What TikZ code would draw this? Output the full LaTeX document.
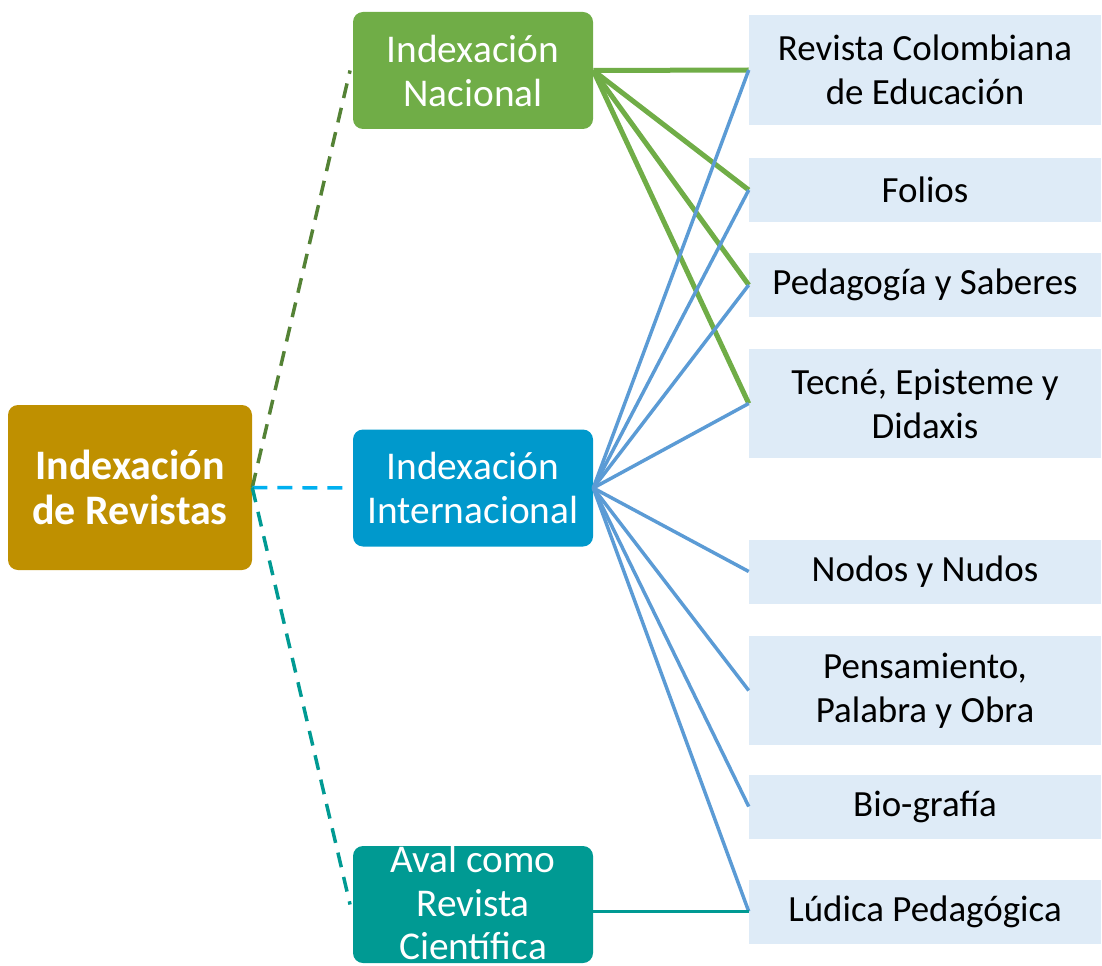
\documentclass[tikz,border=0pt]{standalone}
\usepackage{fontspec}
\setmainfont{Carlito}
\usepackage{xcolor}
\usetikzlibrary{shapes.geometric, arrows}
\definecolor{rootgold}{HTML}{BF9000}
\definecolor{nacgreen}{HTML}{70AD47}
\definecolor{nacdash}{HTML}{548235}
\definecolor{intblue}{HTML}{0099CC}
\definecolor{intdash}{HTML}{00B0F0}
\definecolor{avalteal}{HTML}{009A93}
\definecolor{linkblue}{HTML}{5B9BD5}
\definecolor{journalfill}{HTML}{DEEBF7}
\tikzstyle{rootbox} = [rectangle, rounded corners=7.5pt, minimum width=183pt, minimum height=123.75pt, align=center, text=white, fill=rootgold, font={\fontsize{31.5}{34}\selectfont\bfseries}]
\tikzstyle{groupbox} = [rectangle, rounded corners=7.5pt, minimum width=180pt, minimum height=87.75pt, align=center, text=white, font={\fontsize{29.5}{33}\selectfont}]
\tikzstyle{grouptext} = [align=center, text=white, inner sep=0pt, font={\fontsize{29.5}{32.5}\selectfont}]
\tikzstyle{journal} = [rectangle, minimum width=264pt, minimum height=48pt, align=center, fill=journalfill, font={\fontsize{27.7}{33}\selectfont}]
\tikzstyle{dashlink} = [line width=2.6pt, dash pattern=on 11.25pt off 7.5pt]
\tikzstyle{naclink} = [line width=3.75pt, draw=nacgreen]
\tikzstyle{intlink} = [line width=2.6pt, draw=linkblue]

\begin{document}
\begin{tikzpicture}[x=0.75pt, y=-0.75pt]
    \useasboundingbox (0,0) rectangle (1102,966);
    % left side
    \node (root) [rootbox] at (130,487.5) {Indexación\\de Revistas};
    \node (nacional) [groupbox, fill=nacgreen] at (473,70.5) {Indexación\\Nacional};
    \node (internacional) [groupbox, fill=intblue] at (473,488) {Indexación\\Internacional};
    \node (aval) [groupbox, fill=avalteal] at (473,904.5) {};
    \node (avaltext) [grouptext] at ([yshift=1.5pt]aval.center) {Aval como\\Revista\\Científica};

    % journals
    \node (rce) [journal, minimum height=82.5pt] at (925,70) {Revista Colombiana\\de Educación};
    \node (folios) [journal] at (925,190) {Folios};
    \node (pedagogia) [journal] at (925,285) {Pedagogía y Saberes};
    \node (tecne) [journal, minimum height=82pt] at (925,403.5) {Tecné, Episteme y\\Didaxis};
    \node (nodos) [journal] at (925,571.5) {Nodos y Nudos};
    \node (pensamiento) [journal, minimum height=82pt] at (925,690.5) {Pensamiento,\\Palabra y Obra};
    \node (biografia) [journal] at (925,806.5) {Bio-grafía};
    \node (ludica) [journal] at (925,911.5) {Lúdica Pedagógica};

    \draw [dashlink, draw=nacdash] (root.east) -- ([xshift=-2pt]nacional.west);
    \draw [dashlink, draw=intdash] (root.east) -- ([xshift=-2pt]internacional.west);
    \draw [dashlink, draw=avalteal] (root.east) -- ([xshift=-2pt]aval.west);

    \draw [naclink] (nacional.east) -- (rce.west);
    \draw [naclink] (nacional.east) -- (folios.west);
    \draw [naclink] (nacional.east) -- (pedagogia.west);
    \draw [naclink] (nacional.east) -- (tecne.west);

    \draw [intlink] (internacional.east) -- (rce.west);
    \draw [intlink] (internacional.east) -- (folios.west);
    \draw [intlink] (internacional.east) -- (pedagogia.west);
    \draw [intlink] (internacional.east) -- (tecne.west);
    \draw [intlink] (internacional.east) -- (nodos.west);
    \draw [intlink] (internacional.east) -- (pensamiento.west);
    \draw [intlink] (internacional.east) -- (biografia.west);
    \draw [intlink] (internacional.east) -- (ludica.west);

    \draw [line width=2.25pt, draw=avalteal] (aval.east |- ludica.west) -- (ludica.west);
\end{tikzpicture}
\end{document}
